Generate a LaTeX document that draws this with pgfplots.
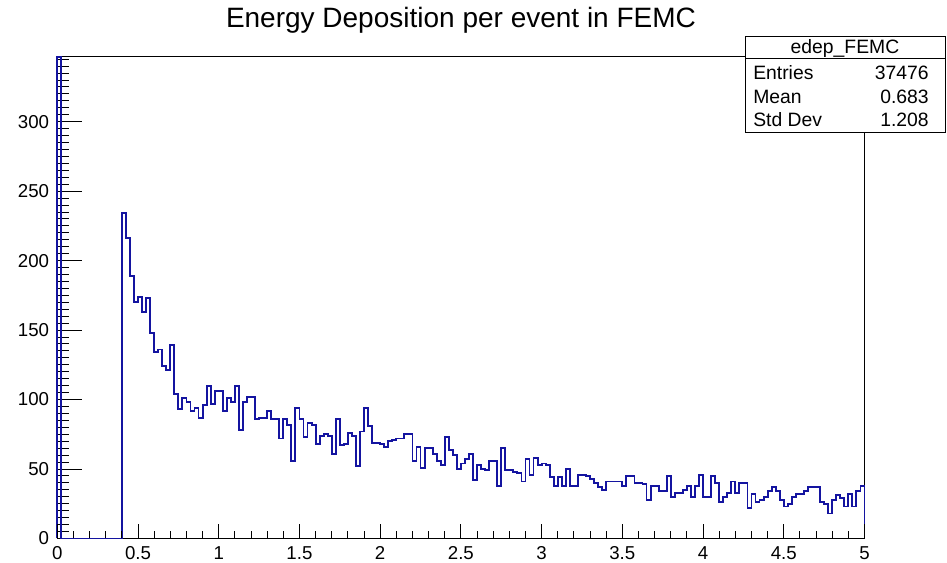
\documentclass[border=0pt]{standalone}
\usepackage{fontspec}
\setmainfont{Liberation Sans}
\usepackage{pgfplots}
\pgfplotsset{compat=1.18}
\definecolor{histblue}{RGB}{20,20,160}
\begin{document}
\begin{tikzpicture}
\begin{scope}[x=0.75pt,y=-0.75pt,yshift=422.25pt]
\path[use as bounding box] (0,0) rectangle (947,563);
\end{scope}
% main axis: frame, histogram, y ticks
\begin{axis}[
  at={(42.975pt,18.375pt)}, anchor=south west,
  scale only axis, width=605.4pt, height=361.35pt,
  xmin=0, xmax=5, ymin=0, ymax=346.8,
  clip=false,
  axis line style={line width=0.75pt, black},
  tick align=inside, tick pos=left,
  xtick=\empty,
  ytick={0,50,100,150,200,250,300},
  minor ytick={5,10,15,20,25,30,35,40,45,55,60,65,70,75,80,85,90,95,105,110,115,120,125,130,135,140,145,155,160,165,170,175,180,185,190,195,205,210,215,220,225,230,235,240,245,255,260,265,270,275,280,285,290,295,305,310,315,320,325,330,335,340,345},
  major tick length=18.2pt, minor tick length=9pt,
  tick style={black, line width=0.75pt},
  /pgf/number format/assume math mode=true,
  yticklabel style={font=\fontsize{14}{14}\selectfont, inner sep=0pt, xshift=-6pt},
]
\addplot[const plot mark left, histblue, line width=1.4pt, restrict y to domain*=0:346.8] coordinates {
(0,0) (0,26400) (0.025,0) (0.05,0) (0.075,0) (0.1,0) (0.125,0) (0.15,0) (0.175,0)
(0.2,0) (0.225,0) (0.25,0) (0.275,0) (0.3,0) (0.325,0) (0.35,0) (0.375,0)
(0.400,234) (0.425,216) (0.450,189) (0.475,170) (0.500,174) (0.525,163) (0.550,173) (0.575,148)
(0.600,134) (0.625,136) (0.650,124) (0.675,121) (0.700,139) (0.725,104) (0.750,93) (0.775,101)
(0.800,98) (0.825,92) (0.850,94) (0.875,87) (0.900,96) (0.925,110) (0.950,97) (0.975,106)
(1.000,106) (1.025,92) (1.050,101) (1.075,98) (1.100,110) (1.125,78) (1.150,98) (1.175,102)
(1.200,102) (1.225,86) (1.250,87) (1.275,87) (1.300,92) (1.325,86) (1.350,86) (1.375,72)
(1.400,86) (1.425,82) (1.450,56) (1.475,94) (1.500,86) (1.525,73) (1.550,83) (1.575,82)
(1.600,68) (1.625,74) (1.650,75) (1.675,74) (1.700,61) (1.725,86) (1.750,67) (1.775,68)
(1.800,76) (1.825,74) (1.850,52) (1.875,77) (1.900,94) (1.925,81) (1.950,69) (1.975,69)
(2.000,68) (2.025,66) (2.050,70) (2.075,71) (2.100,72) (2.125,72) (2.150,75) (2.175,75)
(2.200,56) (2.225,66) (2.250,51) (2.275,65) (2.300,65) (2.325,61) (2.350,56) (2.375,53)
(2.400,73) (2.425,64) (2.450,60) (2.475,50) (2.500,54) (2.525,57) (2.550,61) (2.575,42)
(2.600,53) (2.625,50) (2.650,49) (2.675,56) (2.700,56) (2.725,38) (2.750,65) (2.775,49)
(2.800,49) (2.825,48) (2.850,47) (2.875,41) (2.900,57) (2.925,46) (2.950,58) (2.975,53)
(3.000,54) (3.025,53) (3.050,44) (3.075,38) (3.100,44) (3.125,38) (3.150,50) (3.175,38)
(3.200,38) (3.225,46) (3.250,46) (3.275,45) (3.300,43) (3.325,40) (3.350,37) (3.375,35)
(3.400,41) (3.425,41) (3.450,41) (3.475,41) (3.500,38) (3.525,45) (3.550,45) (3.575,40)
(3.600,40) (3.625,39) (3.650,28) (3.675,38) (3.700,38) (3.725,34) (3.750,34) (3.775,45)
(3.800,30) (3.825,33) (3.850,33) (3.875,35) (3.900,38) (3.925,30) (3.950,38) (3.975,46)
(4.000,30) (4.025,30) (4.050,45) (4.075,40) (4.100,26) (4.125,30) (4.150,33) (4.175,41)
(4.200,33) (4.225,40) (4.250,40) (4.275,22) (4.300,32) (4.325,26) (4.350,28) (4.375,30)
(4.400,34) (4.425,37) (4.450,34) (4.475,28) (4.500,23) (4.525,25) (4.550,30) (4.575,32)
(4.600,32) (4.625,34) (4.650,37) (4.675,37) (4.700,37) (4.725,26) (4.750,25) (4.775,18)
(4.800,28) (4.825,31) (4.850,29) (4.875,23) (4.900,32) (4.925,23) (4.950,34) (4.975,38)
(5.000,38) (5.000,0)
};
\end{axis}
% second axis: x ticks only (shorter tick length)
\begin{axis}[
  at={(42.975pt,18.375pt)}, anchor=south west,
  scale only axis, width=605.4pt, height=361.35pt,
  xmin=0, xmax=5, ymin=0, ymax=346.8,
  axis line style={draw=none},
  tick align=inside, tick pos=left,
  ytick=\empty,
  xtick={0,0.5,1,1.5,2,2.5,3,3.5,4,4.5,5},
  minor x tick num=4,
  major tick length=10.8pt, minor tick length=5.4pt,
  tick style={black, line width=0.75pt},
  /pgf/number format/assume math mode=true,
  xticklabel style={font=\fontsize{14}{14}\selectfont, inner sep=0pt, yshift=-6pt},
]
\end{axis}
\begin{scope}[x=0.75pt,y=-0.75pt,yshift=422.25pt]
\node[anchor=base, inner sep=0pt, font=\fontsize{21}{21}\selectfont] at (461,28) {Energy Deposition per event in FEMC};
\draw[line width=0.75pt, fill=white] (745,36.7) rectangle (945,132.3);
\draw[line width=0.75pt] (745,58.3) -- (945,58.3);
\begin{scope}[every node/.style={inner sep=0pt, font=\fontsize{14.5}{14.5}\selectfont}]
\node[anchor=base] at (845,54) {edep\_FEMC};
\node[anchor=base west] at (753,79.5) {Entries};
\node[anchor=base east] at (929,79.5) {37476};
\node[anchor=base west] at (753,104) {Mean};
\node[anchor=base east] at (929,104) {0.683};
\node[anchor=base west] at (753,127) {Std Dev};
\node[anchor=base east] at (929,127) {1.208};
\end{scope}
\end{scope}
\end{tikzpicture}
\end{document}
